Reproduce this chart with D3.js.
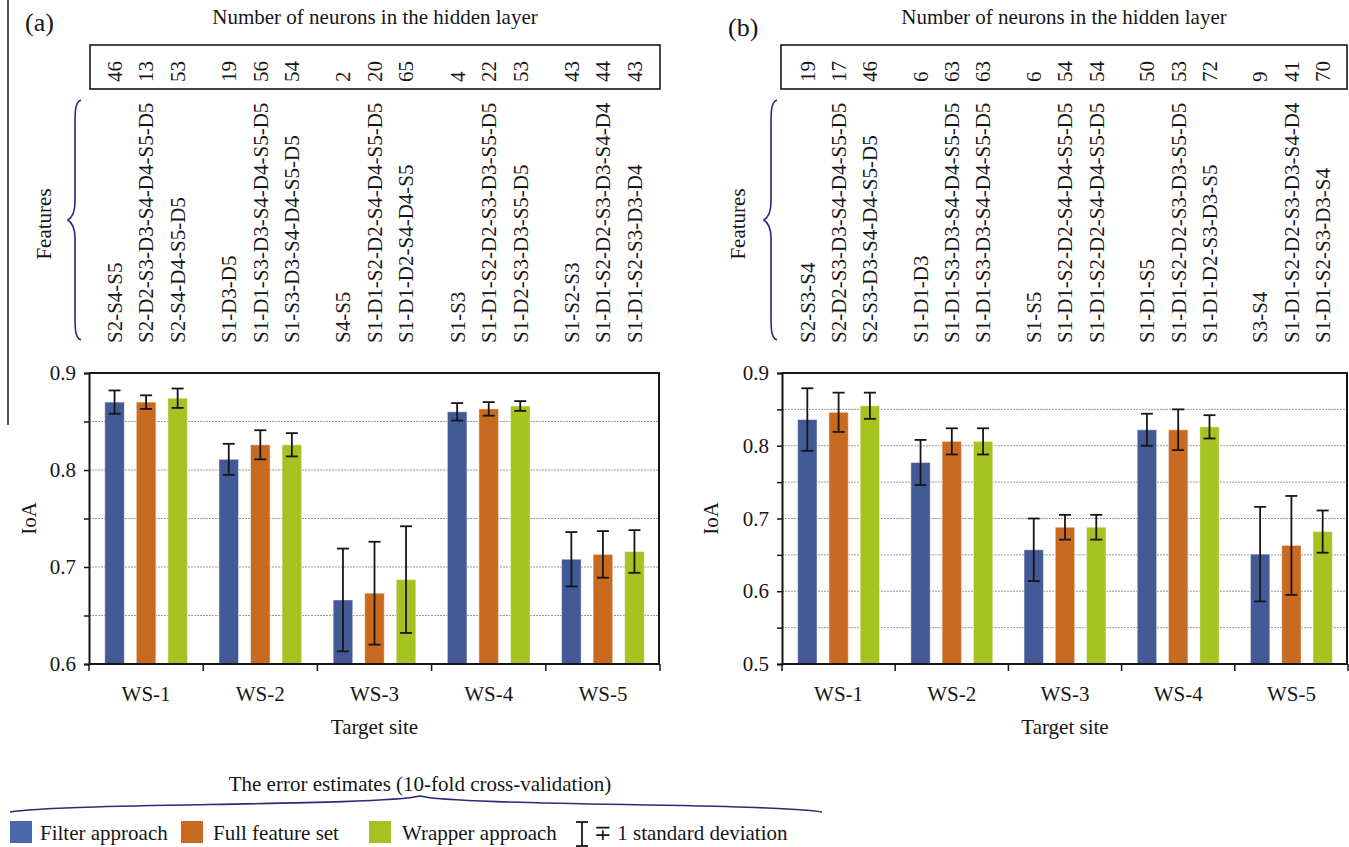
<!DOCTYPE html>
<html><head><meta charset="utf-8">
<script src="https://cdn.jsdelivr.net/npm/d3@7"></script>
<style>
html,body{margin:0;padding:0;background:#fff;}
svg{display:block;font-family:"Liberation Serif","Times New Roman",serif;}
</style></head><body>
<svg id="chart" width="1349" height="847"></svg>
<script>
// ---- shared categories ----
const sites = ["WS-1", "WS-2", "WS-3", "WS-4", "WS-5"];
const seriesNames = ["Filter approach", "Full feature set", "Wrapper approach"];
const seriesColors = ["#445a96", "#c86b20", "#a6c322"];
const legendColors = ["#4a66ad", "#c86b20", "#a6c322"];

// ---- panel (a): IoA means and standard deviations ----
const filterA = [0.870, 0.811, 0.666, 0.860, 0.708];
const fullA = [0.870, 0.826, 0.673, 0.863, 0.713];
const wrapperA = [0.874, 0.826, 0.687, 0.866, 0.716];
const filterSdA = [0.012, 0.016, 0.053, 0.009, 0.028];
const fullSdA = [0.007, 0.015, 0.053, 0.007, 0.024];
const wrapperSdA = [0.010, 0.012, 0.055, 0.005, 0.022];
const neuronsA = [46, 13, 53, 19, 56, 54, 2, 20, 65, 4, 22, 53, 43, 44, 43];
const featuresA = [
  "S2-S4-S5", "S2-D2-S3-D3-S4-D4-S5-D5", "S2-S4-D4-S5-D5",
  "S1-D3-D5", "S1-D1-S3-D3-S4-D4-S5-D5", "S1-S3-D3-S4-D4-S5-D5",
  "S4-S5", "S1-D1-S2-D2-S4-D4-S5-D5", "S1-D1-D2-S4-D4-S5",
  "S1-S3", "S1-D1-S2-D2-S3-D3-S5-D5", "S1-D2-S3-D3-S5-D5",
  "S1-S2-S3", "S1-D1-S2-D2-S3-D3-S4-D4", "S1-D1-S2-S3-D3-D4"
];

// ---- panel (b): IoA means and standard deviations ----
const filterB = [0.836, 0.777, 0.657, 0.822, 0.651];
const fullB = [0.846, 0.806, 0.688, 0.822, 0.663];
const wrapperB = [0.855, 0.806, 0.688, 0.826, 0.682];
const filterSdB = [0.043, 0.031, 0.043, 0.022, 0.065];
const fullSdB = [0.027, 0.018, 0.017, 0.028, 0.068];
const wrapperSdB = [0.018, 0.018, 0.017, 0.016, 0.029];
const neuronsB = [19, 17, 46, 6, 63, 63, 6, 54, 54, 50, 53, 72, 9, 41, 70];
const featuresB = [
  "S2-S3-S4", "S2-D2-S3-D3-S4-D4-S5-D5", "S2-S3-D3-S4-D4-S5-D5",
  "S1-D1-D3", "S1-D1-S3-D3-S4-D4-S5-D5", "S1-D1-S3-D3-S4-D4-S5-D5",
  "S1-S5", "S1-D1-S2-D2-S4-D4-S5-D5", "S1-D1-S2-D2-S4-D4-S5-D5",
  "S1-D1-S5", "S1-D1-S2-D2-S3-D3-S5-D5", "S1-D1-D2-S3-D3-S5",
  "S3-S4", "S1-D1-S2-D2-S3-D3-S4-D4", "S1-D1-S2-S3-D3-S4"
];

const svg = d3.select("#chart");
const ink = "#161616";
const braceColor = "#2a2a78";
const FS = 21;

function drawPanel(cfg) {
  const g = svg.append("g");
  const x = d3.scaleBand().domain(sites).range([cfg.left, cfg.right]);
  const xi = d3.scaleBand().domain(seriesNames).range([0, x.bandwidth()])
    .paddingInner(0.38).paddingOuter(0.5);
  const y = d3.scaleLinear().domain(cfg.domain).range([cfg.bottom, cfg.top]);

  const nSteps = Math.round((cfg.domain[1] - cfg.domain[0]) / 0.05);
  const tickVals = d3.range(nSteps + 1).map(i => +(cfg.domain[0] + i * 0.05).toFixed(2));

  // gridlines
  g.append("g").selectAll("line")
    .data(tickVals.filter(v => v > cfg.domain[0] && v < cfg.domain[1]))
    .join("line")
    .attr("x1", cfg.left).attr("x2", cfg.right)
    .attr("y1", d => y(d)).attr("y2", d => y(d))
    .attr("stroke", "#9a9a9a").attr("stroke-width", 1)
    .attr("stroke-dasharray", "2,1");

  // bars
  const series = cfg.values.map((vals, si) => sites.map((s, i) => ({
    site: s, name: seriesNames[si], si, v: vals[i], sd: cfg.sds[si][i]
  })));
  const flat = series.flat();
  g.append("g").selectAll("rect").data(flat).join("rect")
    .attr("x", d => x(d.site) + xi(d.name))
    .attr("width", xi.bandwidth())
    .attr("y", d => y(d.v))
    .attr("height", d => y(cfg.domain[0]) - y(d.v))
    .attr("fill", d => seriesColors[d.si])
    .attr("stroke", "rgba(255,255,255,0.45)").attr("stroke-width", 1);

  // error bars
  const eb = g.append("g").attr("stroke", ink).attr("stroke-width", 1.8);
  flat.forEach(d => {
    const cx = x(d.site) + xi(d.name) + xi.bandwidth() / 2;
    const y1 = y(d.v + d.sd), y2 = y(d.v - d.sd);
    eb.append("line").attr("x1", cx).attr("x2", cx).attr("y1", y1).attr("y2", y2);
    eb.append("line").attr("x1", cx - 6).attr("x2", cx + 6).attr("y1", y1).attr("y2", y1);
    eb.append("line").attr("x1", cx - 6).attr("x2", cx + 6).attr("y1", y2).attr("y2", y2);
  });

  // y axis
  const yAxis = d3.axisLeft(y).tickValues(tickVals).tickSize(5).tickPadding(8)
    .tickFormat(d => Math.round(d * 100) % 10 === 0 ? d3.format(".1f")(d) : "");
  const ya = g.append("g").attr("transform", `translate(${cfg.left},0)`).call(yAxis)
    .attr("font-family", null).attr("font-size", FS);
  ya.select(".domain").attr("stroke", ink).attr("stroke-width", 2);
  ya.selectAll(".tick line").attr("stroke", ink).attr("stroke-width", 1.5);
  ya.selectAll("text").attr("fill", ink);

  // x axis labels
  const xAxis = d3.axisBottom(x).tickSize(0).tickPadding(22);
  const xa = g.append("g").attr("transform", `translate(0,${cfg.bottom})`).call(xAxis)
    .attr("font-family", null).attr("font-size", FS);
  xa.select(".domain").remove();
  xa.selectAll("text").attr("fill", ink);

  // bottom axis line with ticks at group boundaries
  g.append("line").attr("x1", cfg.left).attr("x2", cfg.right)
    .attr("y1", cfg.bottom).attr("y2", cfg.bottom).attr("stroke", ink).attr("stroke-width", 2);
  const bounds = sites.map(s => x(s)).concat([cfg.right]);
  g.append("g").selectAll("line").data(bounds).join("line")
    .attr("x1", d => d).attr("x2", d => d)
    .attr("y1", cfg.bottom).attr("y2", cfg.bottom + 7)
    .attr("stroke", ink).attr("stroke-width", 1.5);

  // top and right frame
  g.append("line").attr("x1", cfg.left).attr("x2", cfg.right)
    .attr("y1", cfg.top).attr("y2", cfg.top).attr("stroke", ink).attr("stroke-width", 2);
  g.append("line").attr("x1", cfg.right - 1).attr("x2", cfg.right - 1)
    .attr("y1", cfg.top).attr("y2", cfg.bottom).attr("stroke", ink).attr("stroke-width", 2);

  // axis titles
  g.append("text").attr("x", (cfg.left + cfg.right) / 2).attr("y", cfg.bottom + 70)
    .attr("text-anchor", "middle").attr("font-size", FS).attr("fill", ink).text("Target site");
  g.append("text")
    .attr("transform", `translate(${cfg.ioaX},${(cfg.top + cfg.bottom) / 2}) rotate(-90)`)
    .attr("text-anchor", "middle").attr("dy", "0.35em")
    .attr("font-size", FS).attr("fill", ink).text("IoA");

  // panel tag and header
  g.append("text").attr("x", cfg.tagX).attr("y", cfg.tagY)
    .attr("font-size", 26).attr("fill", ink).text(cfg.tag);
  g.append("text").attr("x", (cfg.boxLeft + cfg.boxRight) / 2).attr("y", 24)
    .attr("text-anchor", "middle").attr("font-size", FS).attr("fill", ink)
    .text("Number of neurons in the hidden layer");
  g.append("rect").attr("x", cfg.boxLeft).attr("y", 45)
    .attr("width", cfg.boxRight - cfg.boxLeft).attr("height", 44)
    .attr("fill", "none").attr("stroke", ink).attr("stroke-width", 1.6);

  // per-bar neuron counts and feature sets, aligned with bar centres
  const cols = [];
  sites.forEach(s => seriesNames.forEach(n => cols.push(x(s) + xi(n) + xi.bandwidth() / 2)));
  g.append("g").selectAll("text").data(cfg.neurons).join("text")
    .attr("transform", (d, i) => `translate(${cols[i]},82) rotate(-90)`)
    .attr("dy", "0.35em").attr("font-size", FS).attr("fill", ink)
    .text(d => d);
  g.append("g").selectAll("text").data(cfg.features).join("text")
    .attr("transform", (d, i) => `translate(${cols[i]},343) rotate(-90)`)
    .attr("dy", "0.35em").attr("font-size", FS).attr("fill", ink)
    .text(d => d);

  // "Features" brace
  const bx = cfg.braceX, t = 100, m = 220, b = 340;
  g.append("path")
    .attr("d", `M${bx + 13},${t} C${bx + 7},${t + 2} ${bx + 7},${t + 12} ${bx + 7},${t + 25}
      L${bx + 7},${m - 18} C${bx + 7},${m - 6} ${bx + 3},${m - 2} ${bx},${m}
      C${bx + 3},${m + 2} ${bx + 7},${m + 6} ${bx + 7},${m + 18}
      L${bx + 7},${b - 25} C${bx + 7},${b - 12} ${bx + 7},${b - 2} ${bx + 13},${b}`)
    .attr("fill", "none").attr("stroke", braceColor).attr("stroke-width", 1.6);
  g.append("text")
    .attr("transform", `translate(${cfg.featX},${m + 4}) rotate(-90)`)
    .attr("text-anchor", "middle").attr("dy", "0.35em")
    .attr("font-size", FS).attr("fill", ink).text("Features");
}

drawPanel({
  left: 89, right: 660, top: 373, bottom: 664, domain: [0.6, 0.9],
  values: [filterA, fullA, wrapperA], sds: [filterSdA, fullSdA, wrapperSdA],
  neurons: neuronsA, features: featuresA,
  tag: "(a)", tagX: 25, tagY: 31, boxLeft: 90, boxRight: 660,
  braceX: 68, featX: 44, ioaX: 29
});
drawPanel({
  left: 782, right: 1348, top: 373, bottom: 664, domain: [0.5, 0.9],
  values: [filterB, fullB, wrapperB], sds: [filterSdB, fullSdB, wrapperSdB],
  neurons: neuronsB, features: featuresB,
  tag: "(b)", tagX: 728, tagY: 36, boxLeft: 781, boxRight: 1347,
  braceX: 764, featX: 738, ioaX: 711
});

// left rule of panel (a)
svg.append("line").attr("x1", 8).attr("x2", 8).attr("y1", 0).attr("y2", 425)
  .attr("stroke", ink).attr("stroke-width", 1.5);

// ---- shared legend ----
const lg = svg.append("g");
lg.append("text").attr("x", 420).attr("y", 791).attr("text-anchor", "middle")
  .attr("font-size", FS).attr("fill", ink)
  .text("The error estimates (10-fold cross-validation)");
lg.append("path")
  .attr("d", "M10,812 C60,803 380,806 420,796 C460,806 770,803 822,812")
  .attr("fill", "none").attr("stroke", braceColor).attr("stroke-width", 1.6);

const legendItems = [
  { sx: 10, tx: 40 },
  { sx: 181, tx: 213 },
  { sx: 369, tx: 402 }
];
seriesNames.forEach((n, i) => {
  lg.append("rect").attr("x", legendItems[i].sx).attr("y", 821)
    .attr("width", 22).attr("height", 22).attr("fill", legendColors[i]);
  lg.append("text").attr("x", legendItems[i].tx).attr("y", 840)
    .attr("font-size", FS).attr("fill", ink).text(n);
});
// error-bar key
const ek = lg.append("g").attr("stroke", ink).attr("stroke-width", 1.8);
ek.append("line").attr("x1", 582).attr("x2", 582).attr("y1", 822).attr("y2", 846);
ek.append("line").attr("x1", 576).attr("x2", 588).attr("y1", 822).attr("y2", 822);
ek.append("line").attr("x1", 576).attr("x2", 588).attr("y1", 846).attr("y2", 846);
lg.append("text").attr("x", 594).attr("y", 840)
  .attr("font-size", FS).attr("fill", ink).text("\u2213 1 standard deviation");
</script>
</body></html>
